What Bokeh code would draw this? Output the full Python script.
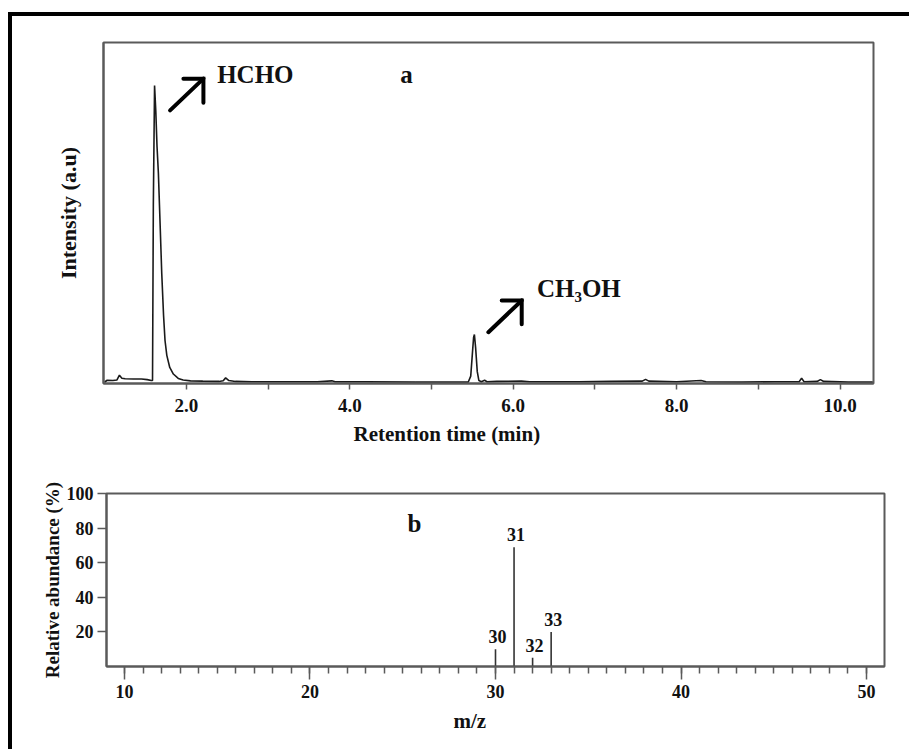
from bokeh.plotting import figure
from bokeh.layouts import column
from bokeh.models import Range1d, FixedTicker, Label, NumeralTickFormatter, Title
from bokeh.embed import file_html
from bokeh.resources import INLINE
from bokeh.core.properties import value

# ---- (a) chromatogram: retention time (min) vs intensity (a.u) ----
rt = [1.00, 1.03, 1.10, 1.15, 1.18, 1.21, 1.25, 1.35, 1.45, 1.52, 1.57, 1.585,
      1.595, 1.61, 1.625, 1.64, 1.657, 1.68, 1.698, 1.72, 1.738, 1.76, 1.796,
      1.84, 1.90, 1.96, 2.05, 2.20, 2.40, 2.45, 2.48, 2.52, 2.60, 2.80, 3.20,
      3.60, 3.78, 3.82, 4.20, 4.80, 5.20, 5.45, 5.48, 5.50, 5.515, 5.525, 5.54,
      5.56, 5.58, 5.61, 5.65, 5.68, 5.80, 6.10, 6.20, 6.80, 7.20, 7.58, 7.62,
      7.66, 8.00, 8.30, 8.36, 8.80, 9.20, 9.50, 9.53, 9.56, 9.72, 9.76, 9.80,
      10.10, 10.40]
intensity = [0.5, 1.1, 1.0, 1.2, 2.8, 1.8, 1.6, 1.5, 1.5, 1.3, 1.0, 1.0,
             60.0, 100.5, 92.0, 80.0, 70.8, 52.0, 37.1, 23.0, 14.5, 9.5, 5.4,
             3.2, 1.7, 1.2, 0.9, 0.8, 0.7, 0.9, 1.9, 1.0, 0.7, 0.6, 0.6,
             0.6, 0.9, 0.6, 0.6, 0.5, 0.5, 0.5, 2.5, 10.0, 15.5, 16.5, 12.0,
             4.0, 1.0, 0.6, 1.1, 0.6, 0.7, 0.8, 0.6, 0.6, 0.7, 0.8, 1.4,
             0.8, 0.6, 1.0, 0.6, 0.5, 0.6, 0.6, 1.8, 0.6, 0.7, 1.3, 0.7,
             0.5, 0.5]
rt_major_ticks = [2, 4, 6, 8, 10]
rt_minor_ticks = [3, 5, 7, 9]

# peak annotation arrows (shaft + open head), data units of panel (a)
arrow_xs = [[1.80, 2.208], [1.963, 2.208, 2.208],
            [5.696, 6.104], [5.859, 6.104, 6.104]]
arrow_ys = [[92.1, 102.8], [102.8, 102.8, 94.7],
            [17.3, 28.0], [28.0, 28.0, 20.0]]

# ---- (b) mass spectrum: m/z vs relative abundance (%) ----
mz = [30, 31, 32, 33]
abundance = [10, 69, 5, 20]
mz_labels = ["30", "31", "32", "33"]
mz_major_ticks = [10, 20, 30, 40, 50]
mz_minor_ticks = list(range(9, 52))
ab_ticks = [20, 40, 60, 80, 100]

SERIF = "Liberation Serif"
FRAME = "#5a5a5a"
INK = "#111111"

# ---------------- panel (a) ----------------
p1 = figure(width=897, height=449, x_range=Range1d(0.985, 10.41),
            y_range=Range1d(0, 115), output_backend="svg",
            toolbar_location=None, min_border_left=91, min_border_right=36,
            min_border_top=26, min_border_bottom=82)
p1.frame_align = False
p1.grid.visible = False
p1.outline_line_color = FRAME
p1.outline_line_width = 2

xa = p1.xaxis[0]
xa.ticker = FixedTicker(ticks=rt_major_ticks, minor_ticks=rt_minor_ticks)
xa.formatter = NumeralTickFormatter(format="0.0")
xa.axis_line_color = FRAME
xa.axis_line_width = 2
xa.major_tick_line_color = FRAME
xa.minor_tick_line_color = FRAME
xa.major_tick_line_width = 1.5
xa.minor_tick_line_width = 1.5
xa.major_tick_in = 0
xa.major_tick_out = 6
xa.minor_tick_in = 0
xa.minor_tick_out = 6
xa.major_label_text_font = SERIF
xa.major_label_text_font_style = "bold"
xa.major_label_text_font_size = "19px"
xa.major_label_text_color = INK
xa.major_label_standoff = 9

ya = p1.yaxis[0]
ya.ticker = FixedTicker(ticks=[])
ya.axis_line_color = FRAME
ya.axis_line_width = 2
ya.major_tick_line_color = None
ya.minor_tick_line_color = None
ya.major_label_text_font_size = "0px"
ya.axis_label = "Intensity (a.u)"
ya.axis_label_text_font = SERIF
ya.axis_label_text_font_style = "bold"
ya.axis_label_text_font_size = "22px"
ya.axis_label_text_color = INK
ya.axis_label_standoff = 23

p1.add_layout(Title(text="Retention time (min)", align="left", offset=250,
                    standoff=10, text_font=SERIF, text_font_style="bold",
                    text_font_size="21px", text_color=INK), "below")

p1.line(rt, intensity, line_color="#1a1a1a", line_width=1.6)
p1.multi_line(arrow_xs, arrow_ys, line_color="black", line_width=4,
              line_cap="round", line_join="miter")

p1.add_layout(Label(x=2.376, y=104.3, text="HCHO", text_font=SERIF,
                    text_font_style="bold", text_font_size="25px",
                    text_baseline="alphabetic", text_color=INK))
p1.add_layout(Label(x=4.618, y=104.2, text="a", text_font=SERIF,
                    text_font_style="bold", text_font_size="25px",
                    text_baseline="alphabetic", text_color=INK))
p1.add_layout(Label(x=6.29, y=32.0, text="CH\u2083OH", text_font=SERIF,
                    text_font_style="bold", text_font_size="25px",
                    text_baseline="alphabetic", text_color=INK))

# ---------------- panel (b) ----------------
p2 = figure(width=897, height=284, x_range=Range1d(9.03, 50.97),
            y_range=Range1d(0, 100), output_backend="svg",
            toolbar_location=None, min_border_left=94, min_border_right=25,
            min_border_top=28, min_border_bottom=83)
p2.frame_align = False
p2.grid.visible = False
p2.outline_line_color = FRAME
p2.outline_line_width = 2

xb = p2.xaxis[0]
xb.ticker = FixedTicker(ticks=mz_major_ticks, minor_ticks=mz_minor_ticks)
xb.axis_line_color = FRAME
xb.axis_line_width = 2
xb.major_tick_line_color = FRAME
xb.minor_tick_line_color = FRAME
xb.major_tick_line_width = 1.5
xb.minor_tick_line_width = 1.5
xb.major_tick_in = 0
xb.major_tick_out = 13
xb.minor_tick_in = 0
xb.minor_tick_out = 7
xb.major_label_text_font = SERIF
xb.major_label_text_font_style = "bold"
xb.major_label_text_font_size = "18px"
xb.major_label_text_color = INK
xb.major_label_standoff = 5

yb = p2.yaxis[0]
yb.ticker = FixedTicker(ticks=ab_ticks)
yb.axis_line_color = FRAME
yb.axis_line_width = 2
yb.major_tick_line_color = FRAME
yb.major_tick_line_width = 1.5
yb.minor_tick_line_color = None
yb.major_tick_in = 0
yb.major_tick_out = 9
yb.major_label_text_font = SERIF
yb.major_label_text_font_style = "bold"
yb.major_label_text_font_size = "18px"
yb.major_label_text_color = INK
yb.major_label_standoff = 4
yb.axis_label = "Relative abundance (%)"
yb.axis_label_text_font = SERIF
yb.axis_label_text_font_style = "bold"
yb.axis_label_text_font_size = "19px"
yb.axis_label_text_color = INK
yb.axis_label_standoff = 1

p2.add_layout(Title(text="m/z", align="left", offset=347, standoff=13,
                    text_font=SERIF, text_font_style="bold",
                    text_font_size="21px", text_color=INK), "below")

p2.segment(x0=mz, y0=[0] * len(mz), x1=mz, y1=abundance,
           line_color="#333333", line_width=1.6)
p2.text(x=mz, y=abundance, text=mz_labels, x_offset=2, y_offset=-6,
        text_font=value(SERIF), text_font_style="bold",
        text_font_size="18px", text_align="center",
        text_baseline="bottom", text_color=INK)

p2.add_layout(Label(x=25.26, y=82.6, text="b", text_font=SERIF,
                    text_font_style="bold", text_font_size="25px",
                    text_baseline="alphabetic", text_color=INK))

layout = column(p1, p2, styles={"margin-left": "8px", "margin-top": "12px",
                                "border-left": "4px solid black",
                                "border-top": "4px solid black"})

open("out.html", "w").write(file_html(layout, INLINE))
